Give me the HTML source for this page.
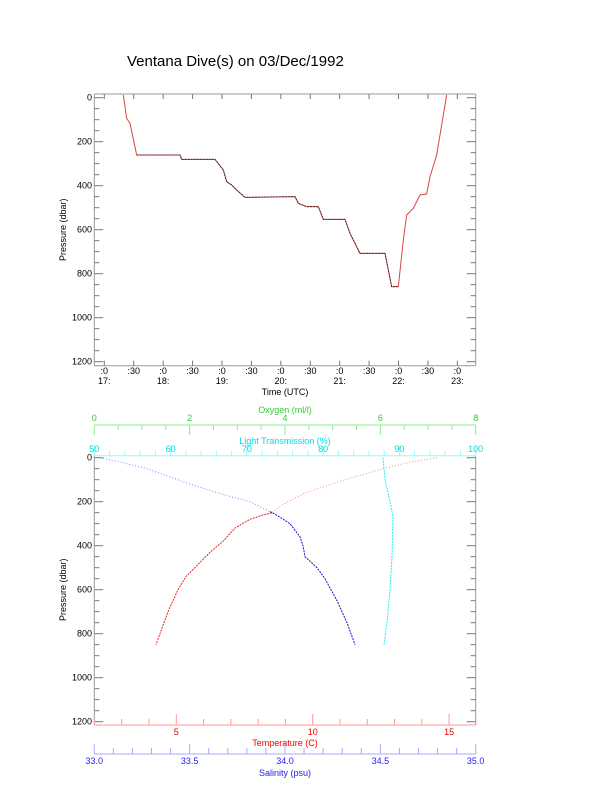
<!DOCTYPE html>
<html><head><meta charset="utf-8"><style>
body{margin:0;background:#fff;}
svg{display:block;font-family:"Liberation Sans",sans-serif;}
</style></head><body>
<svg id="s" width="612" height="785" xmlns="http://www.w3.org/2000/svg">
<rect width="612" height="785" fill="#fff"/>
<text x="127" y="66" font-size="15">Ventana Dive(s) on 03/Dec/1992</text>
<g id="g"></g>
<g transform="translate(50,80) scale(0.33333)">
<polyline fill="none" stroke="#d44" stroke-width="3" points="220,45 230,115 240,130 260,225 390,225 395,238 495,238 520,270 530,305 545,315 560,330 585,352 735,350 745,370 770,380 805,380 820,418 885,418 900,460 930,520 1005,520 1025,620 1045,620 1060,480 1070,405 1090,385 1110,345 1130,342 1140,290 1160,225 1190,45"/>
<polyline fill="none" stroke="#222" stroke-width="2.5" points="260,225 390,225 395,238 495,238 520,270 530,305 545,315 560,330 585,352 735,350 745,370 770,380 805,380 820,418 885,418 900,460 930,520 1005,520 1025,620 1045,620" stroke-dasharray="6 3"/>
</g>
</svg>
<script>
const g=document.getElementById('g');let h='';
function L(x1,y1,x2,y2,c){h+=`<line x1="${x1}" y1="${y1}" x2="${x2}" y2="${y2}" stroke="${c}" stroke-width="1"/>`;}
function T(x,y,t,c,a,s){h+=`<text x="${x}" y="${y}" fill="${c}" font-size="${s||9}" text-anchor="${a||'middle'}">${t}</text>`;}
const X0=94.3,X1=475.7;
L(X0,94,X1,94,'#999');L(X0,365.7,X1,365.7,'#999');L(X0,94,X0,365.7,'#999');L(X1,94,X1,365.7,'#999');
function pY(p,base){return base+p*0.22;}
for(const [base,top,bot] of [[97.7,94,365.7],[457.7,455.7,725]]){
 for(let p=0;p<=1200;p+=50){let y=pY(p,base);let len=p%200==0?9:5;
  L(X0,y,X0+len,y,'#777');L(X1,y,X1-len,y,'#777');
  if(p%200==0)T(92,y+3,p,'#000','end');}
}
h+=`<text transform="translate(66,${pY(600,97.7)}) rotate(-90)" font-size="9" text-anchor="middle">Pressure (dbar)</text>`;
h+=`<text transform="translate(66,${pY(600,457.7)}) rotate(-90)" font-size="9" text-anchor="middle">Pressure (dbar)</text>`;
for(let i=0;i<=12;i++){let x=104.3+i*29.42;L(x,365.7,x,360.7,'#777');L(x,94,x,99,'#777');
 if(i%2==0){T(x,374,':0','#000');T(x,384,(17+i/2)+':','#000');}else T(x,374,':30','#000');}
T(285,395,'Time (UTC)','#000');
L(X0,455.7,X0,725,'#999');L(X1,455.7,X1,725,'#999');
const G='#3c3';L(X0,425,X1,425,'#8e8');
for(let i=0;i<=16;i++){let x=X0+i*(X1-X0)/16;L(x,425,x,i%4==0?435:430,'#8e8');if(i%4==0)T(x,421,i/2,G);}
T(285,413,'Oxygen (ml/l)',G);
const C='#0dd';L(X0,455.7,X1,455.7,'#8ff');
for(let i=0;i<=25;i++){let x=X0+i*(X1-X0)/25;L(x,455.7,x,i%5==0?445.7:450.7,'#8ff');if(i%5==0)T(x,452,50+i*2,C);}
T(285,444,'Light Transmission (%)',C);
const R='#e00';L(X0,725,X1,725,'#f99');
for(let t=2;t<=15;t++){let x=176.3+(t-5)*27.28;L(x,725,x,t%5==0?714:719,'#f99');if(t%5==0)T(x,735,t,R);}
T(285,746,'Temperature (C)',R);
const B='#22e';L(X0,754,X1,754,'#aaf');
for(let i=0;i<=20;i++){let x=X0+i*(X1-X0)/20;L(x,754,x,i%5==0?744:748,'#aaf');if(i%5==0)T(x,764,(33+i*0.1).toFixed(1),B);}
T(285,776,'Salinity (psu)',B);
function poly(pts,c,w,d){h+=`<polyline fill="none" stroke="${c}" stroke-width="${w}" ${d?'stroke-dasharray="'+d+'"':''} points="${pts.map(p=>p[0]+','+pY(p[1],457.7)).join(' ')}"/>`;}
poly([[437,0],[410,20],[383,50],[345,100],[305,160],[282,215],[272,250]],'#f88',1,'1 2');
poly([[272,250],[262,262],[250,280],[235,320],[223,380],[210,430],[197,490],[186,540],[178,600],[168,700],[156,850]],'#e22',1,'2 1');
poly([[100,0],[120,20],[147,50],[190,120],[225,170],[250,200],[270,245]],'#88f',1,'1 2');
poly([[270,245],[277,262],[290,300],[300,360],[303,400],[305,450],[317,500],[325,550],[337,650],[347,750],[355,850]],'#11d',1,'2 1');
poly([[383,0],[385,100],[390,200],[393,270],[392,450],[390,600],[387,750],[384,850]],'#2ee',1,'2 1');
g.innerHTML=h;
</script>
</body></html>
